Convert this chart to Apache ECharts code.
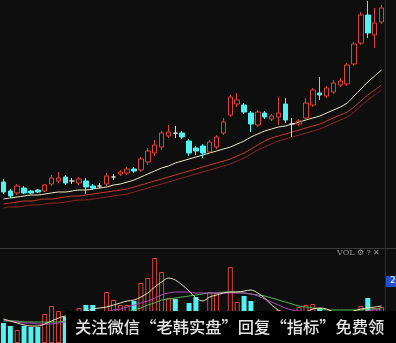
<!DOCTYPE html>
<html><head><meta charset="utf-8">
<script src="https://cdn.jsdelivr.net/npm/echarts/dist/echarts.min.js"></script>
<style>html,body{margin:0;padding:0;background:#0e0e0e;}#c{width:396px;height:343px;}</style>
</head><body><div id="c"></div>
<script>
const categories = ['1','2','3','4','5','6','7','8','9','10','11','12','13','14','15','16','17','18','19','20','21','22','23','24','25','26','27','28','29','30','31','32','33','34','35','36','37','38','39','40','41','42','43','44','45','46','47','48','49','50','51','52','53','54','55','56'];
// [open, close, low, high]
const candles = [
[68,58,56,71],[59,54,52,61],[57,64,55,66],[62,57,56,64],[59,57,56,60],
[60,58,57,61],[59,65,58,66],[66,72,64,75],[69,72,67,78],[73,67,65,75],
[69,69,66,72],[67,71,65,73],[69,63,56,72],[64,62,60,66],[64,64,62,67],
[66,74,64,77],[73,73,70,76],[76,78,74,80],[77,81,75,83],[81,79,77,83],
[80,91,78,93],[88,99,85,102],[97,105,94,110],[103,117,100,119],[114,118,112,125],
[117,116.7,112,124],[117,113,111,119],[109,97,94,111],[102,99,95,104],[104,97,92,106],
[98,108,96,110],[103,113,101,115],[117,128,115,132],[135,153,133,155],[146,150,143,157],
[145,138,136,147],[137,126,118,139],[125,138,123,140],[137,133,131,139],[131,134,129,136],
[133,137,125,153],[146,130,127,152],[126,126,113,132],[126,129,124,131],[132,147,130,152],
[145,160,143,162],[157,155,150,173],[154,162,152,164],[158,167,156,170],[165,169,163,172],
[166,185,164,187],[186,206,184,208],[207,235,205,238],[235,217,212,249],[215,227,202,242],
[228,242,226,245]
];
const maLight = [51,52,53,54,55,55,56,57,58,58,59,60,60,61,62,63,65,66,68,70,73,76,79,82,84,87,89,91,93,95,97,99,101,103,106,109,113,116,119,121,123,124,126,128,130,132,134,137,140,143,147,154,161,168,174,180];
const maRed = [46,47,48,49,49,50,51,51,52,53,54,54,55,56,57,58,59,60,61,63,65,67,69,71,73,75,77,79,81,83,85,87,89,91,94,97,101,105,109,112,114,116,118,120,122,124,126,129,132,135,138,143,149,155,160,165];
const maDark = [42,43,43,44,45,45,46,47,47,48,49,50,50,51,52,53,54,55,56,58,60,62,64,66,68,70,72,74,76,78,80,82,84,86,89,92,96,100,103,106,109,111,113,115,117,119,121,124,127,130,133,138,144,150,155,160];
const volumes = [20,17,13,17,16,16,29,37,32,26,15,35,38,38,20,51,43,38,38,42,60,65,85,71,45,44,25,40,46,30,51,50,30,76,41,47,42,30,22,20,33,28,20,36,38,39,35,25,25,22,28,30,37,45,35,36];
const volMa5 = [24,22,20,18,17,17,19,22,25,27,29,31,32,34,35,36,38,40,42,43,46,50,56,61,65,63,58,52,45,42,46,48,50,51,51,52,53,50,45,38,33,29,27,28,31,34,35,34,31,29,30,32,34,35,36,37];
const volMa10 = [23,22,21,20,20,19,19,19,20,21,22,24,26,28,29,31,33,34,36,38,40,42,45,48,50,51,51,51,50,50,50,50,50,50,50,50,49,47,44,41,38,35,33,32,31,31,30,30,30,30,30,30,31,32,33,33];
const volMa20 = [22,22,22,21,21,21,21,21,21,22,23,24,25,26,27,28,29,30,31,33,35,38,40,43,44,45,46,47,48,49,50,50,51,51,51,50,49,48,47,45,43,41,39,37,36,35,34,33,33,33,33,33,33,34,34,35];

const RED = '#d8443c', CYAN = '#52f2f2', DOJI = '#d8d8d8';
const candleData = candles.map(function (d) {
  if (Math.abs(d[0] - d[1]) < 0.5) return { value: d, itemStyle: { color: DOJI, borderColor: DOJI, borderColor0: DOJI, color0: DOJI } };
  return d;
});
const volData = volumes.map(function (v, i) {
  const up = candles[i][1] >= candles[i][0];
  return { value: v, itemStyle: up ? { color: 'rgba(0,0,0,0)', borderColor: RED, borderWidth: 1 } : { color: CYAN, borderColor: CYAN, borderWidth: 0 } };
});
function line(data, color, xi, yi) {
  return { type: 'line', data: data, xAxisIndex: xi, yAxisIndex: yi, symbol: 'none', smooth: 0.3,
    lineStyle: { color: color, width: 1 }, silent: true, z: 3 };
}
const hiddenX = { type: 'category', data: categories, axisLine: { show: false }, axisTick: { show: false }, axisLabel: { show: false }, splitLine: { show: false } };
const chart = echarts.init(document.getElementById('c'), null, { renderer: 'canvas' });
chart.setOption({
  animation: false,
  backgroundColor: '#0e0e0e',
  grid: [
    { left: 0, width: 385, top: 0, height: 248 },
    { left: 0, width: 385, top: 255, height: 88 }
  ],
  xAxis: [Object.assign({ gridIndex: 0 }, hiddenX), Object.assign({ gridIndex: 1 }, hiddenX)],
  yAxis: [
    { gridIndex: 0, min: 2, max: 250, show: false, splitLine: { show: false } },
    { gridIndex: 1, min: 0, max: 88, show: false, splitLine: { show: false } }
  ],
  series: [
    line(maDark, '#8e2626', 0, 0),
    line(maRed, '#c83a32', 0, 0),
    line(maLight, '#f2ecc8', 0, 0),
    { type: 'candlestick', data: candleData, xAxisIndex: 0, yAxisIndex: 0, barWidth: 5, z: 4,
      itemStyle: { color: 'rgba(0,0,0,0)', color0: CYAN, borderColor: RED, borderColor0: CYAN, borderWidth: 1 } },
    { type: 'bar', data: volData, xAxisIndex: 1, yAxisIndex: 1, barWidth: 5, z: 2 },
    line(volMa20, '#58b858', 1, 1),
    line(volMa10, '#b048c0', 1, 1),
    line(volMa5, '#ece4b8', 1, 1)
  ],
  graphic: [
    { type: 'line', shape: { x1: 0, y1: 248.5, x2: 396, y2: 248.5 }, style: { stroke: '#3a3a3a', lineWidth: 1 }, z: 10 },
    { type: 'line', shape: { x1: 385.5, y1: 0, x2: 385.5, y2: 343 }, style: { stroke: '#2c2c2c', lineWidth: 1 }, z: 10 },
    { type: 'text', left: 337, top: 249, style: { text: 'VOL ⚙ ? ✕', fill: '#9a9a9a', font: '8px "DejaVu Serif"' }, z: 10 },
    { type: 'rect', shape: { x: 386, y: 276, width: 10, height: 11 }, style: { fill: '#1f50d2' }, z: 10 },
    { type: 'text', left: 390, top: 276, style: { text: '2', fill: '#ffffff', font: '9px "DejaVu Sans"' }, z: 11 },
    { type: 'rect', shape: { x: 66, y: 311, width: 330, height: 32 }, style: { fill: '#000000' }, z: 100 },
    { type: 'text', left: 75, top: 319, style: { text: '关注微信“老韩实盘”回复“指标”免费领', fill: '#e4e4e4', font: '500 16.3px "Noto Sans CJK SC"' }, z: 101 }
  ]
});
</script>
</body></html>
